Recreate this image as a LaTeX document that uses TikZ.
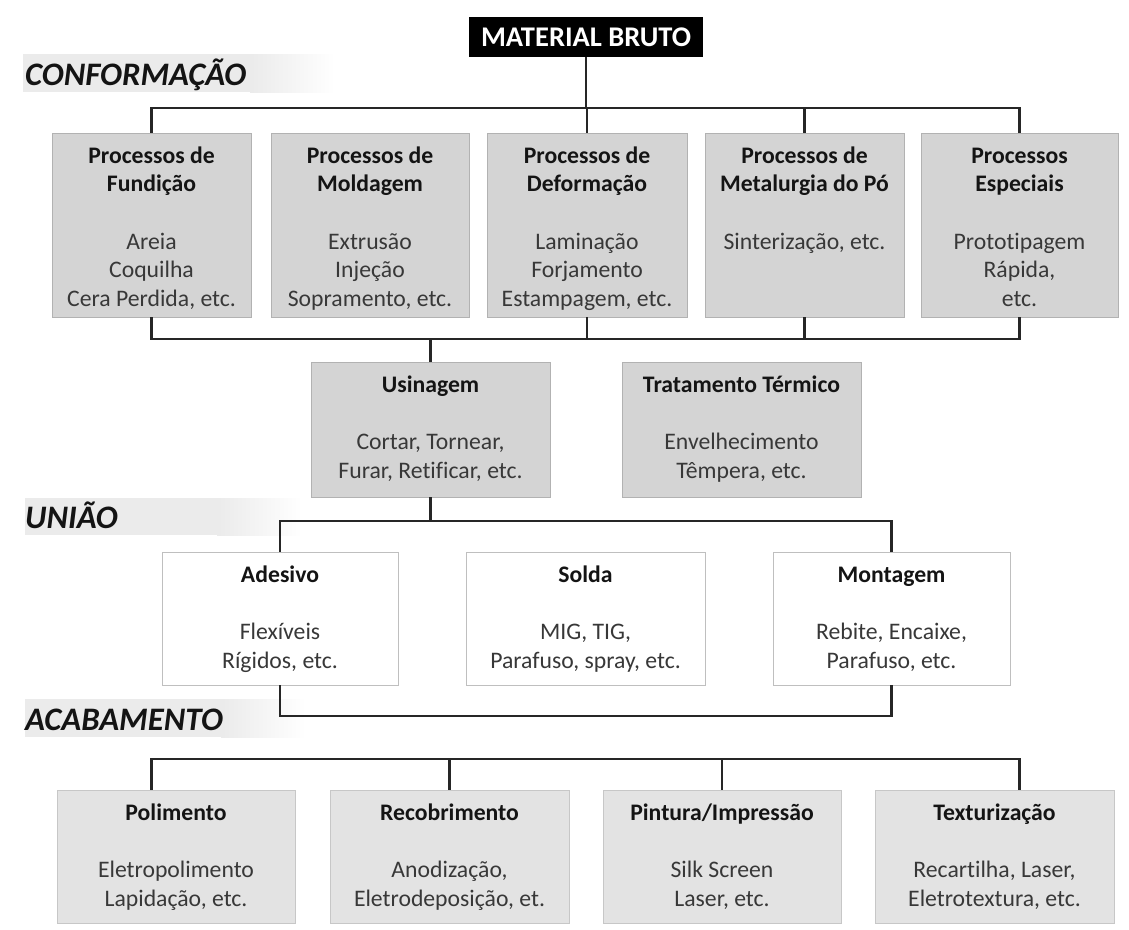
\documentclass[tikz,border=0pt]{standalone}
\usepackage{fontspec}
\setmainfont{Carlito}[Ligatures={NoCommon}]

% heading line inside a box
\newcommand{\hd}[1]{\textcolor{black!92}{\textbf{#1}}}
% box with top-aligned text: name, style, x1, y1, x2, y2, title, body
\newcommand{\procbox}[8]{%
  \node[#2, minimum width={#5-#3}, minimum height={#6-#4}] (#1) at ({(#3+#5)/2},{(#4+#6)/2}) {};
  \node[boxtext] (#1-t) at ({(#3+#5)/2},{#4+10}) {\strut#7\\[28.6pt]#8};
}
% shaded band behind a section label
\newcommand{\band}[4]{%
  \fill[black!8] (#1,#2) rectangle ({#3-85},#4);
  \shade[left color=black!8, right color=white] ({#3-85},#2) rectangle (#3,#4);
}

\begin{document}
\begin{tikzpicture}[x=1pt, y=-1pt,
  conn/.style={draw=black!85, line width=2.2pt},
  darkbox/.style={draw=black!30, fill=black!17, line width=0.8pt, inner sep=0},
  whitebox/.style={draw=black!25, fill=white, line width=0.8pt, inner sep=0},
  lightbox/.style={draw=black!22, fill=black!11, line width=0.8pt, inner sep=0},
  boxtext/.style={anchor=north, align=center, inner sep=0, text=black!78,
    font=\fontsize{23.7}{28.6}\selectfont},
  sectlabel/.style={anchor=base west, inner sep=0, text=black!92,
    font=\fontsize{32.8}{36}\selectfont\bfseries\itshape},
  rootbox/.style={fill=black, text=white, inner sep=0,
    font=\fontsize{28.5}{30}\selectfont\bfseries}
]
\useasboundingbox (0,0) rectangle (1129,929);

% bus levels
\coordinate (bus1) at (0,108);
\coordinate (bus2) at (0,339);
\coordinate (bus3) at (0,521);
\coordinate (bus4) at (0,716);
\coordinate (bus5) at (0,759);

% section labels
\band{23}{54}{335}{92}
\band{25}{498}{302}{535}
\band{25}{699}{306}{737}
\node[sectlabel] (lconf) at (25,85) {CONFORMAÇÃO};
\node[sectlabel] (luni) at (25,528) {UNIÃO};
\node[sectlabel] (lacab) at (25,730) {ACABAMENTO};

% root
\node[rootbox, minimum width=234, minimum height=40] (mb) at (586,37) {MATERIAL BRUTO};

% forming processes
\procbox{f1}{darkbox}{52}{133}{251}{317}{\hd{Processos de}\\\hd{Fundição}}{Areia\\Coquilha\\Cera Perdida, etc.}
\procbox{f2}{darkbox}{271}{133}{469}{317}{\hd{Processos de}\\\hd{Moldagem}}{Extrusão\\Injeção\\Sopramento, etc.}
\procbox{f3}{darkbox}{487}{133}{687}{317}{\hd{Processos de}\\\hd{Deformação}}{Laminação\\Forjamento\\Estampagem, etc.}
\procbox{f4}{darkbox}{705}{133}{904}{317}{\hd{Processos de}\\\hd{Metalurgia do Pó}}{Sinterização, etc.}
\procbox{f5}{darkbox}{921}{133}{1118}{317}{\hd{Processos}\\\hd{Especiais}}{Prototipagem\\Rápida,\\etc.}

% machining and heat treatment
\procbox{us}{darkbox}{311}{362}{550}{497}{\hd{Usinagem}}{Cortar, Tornear,\\Furar, Retificar, etc.}
\procbox{tt}{darkbox}{622}{362}{861}{497}{\hd{Tratamento Térmico}}{Envelhecimento\\Têmpera, etc.}

% joining
\procbox{ad}{whitebox}{162}{552}{398}{685}{\hd{Adesivo}}{Flexíveis\\Rígidos, etc.}
\procbox{so}{whitebox}{466}{552}{705}{685}{\hd{Solda}}{MIG, TIG,\\Parafuso, spray, etc.}
\procbox{mo}{whitebox}{773}{552}{1010}{685}{\hd{Montagem}}{Rebite, Encaixe,\\Parafuso, etc.}

% finishing
\procbox{po}{lightbox}{57}{790}{295}{923}{\hd{Polimento}}{Eletropolimento\\Lapidação, etc.}
\procbox{re}{lightbox}{330}{790}{569}{923}{\hd{Recobrimento}}{Anodização,\\Eletrodeposição, et.}
\procbox{pi}{lightbox}{603}{790}{841}{923}{\hd{Pintura/Impressão}}{Silk Screen\\Laser, etc.}
\procbox{te}{lightbox}{875}{790}{1114}{923}{\hd{Texturização}}{Recartilha, Laser,\\Eletrotextura, etc.}

% connectors: root to forming
\draw[conn] (mb.south) -- (mb.south |- bus1);
\draw[conn] (f1.north) -- (f1.north |- bus1) -| (f5.north);
\draw[conn] (f3.north) -- (f3.north |- bus1);
\draw[conn] (f4.north) -- (f4.north |- bus1);

% forming to machining
\draw[conn] (f1.south) -- (f1.south |- bus2) -| (f5.south);
\draw[conn] (f3.south) -- (f3.south |- bus2);
\draw[conn] (f4.south) -- (f4.south |- bus2);
\draw[conn] (us.north) -- (us.north |- bus2);

% machining to joining
\draw[conn] (us.south) -- (us.south |- bus3);
\draw[conn] (ad.north) -- (ad.north |- bus3) -| (mo.north);

% joining loop
\draw[conn] (ad.south) -- (ad.south |- bus4) -| (mo.south);

% finishing
\draw[conn] (po.north -| f1.north) -- (f1.north |- bus5) -| (te.north -| f5.north);
\draw[conn] (re.north) -- (re.north |- bus5);
\draw[conn] (pi.north) -- (pi.north |- bus5);
\end{tikzpicture}
\end{document}
